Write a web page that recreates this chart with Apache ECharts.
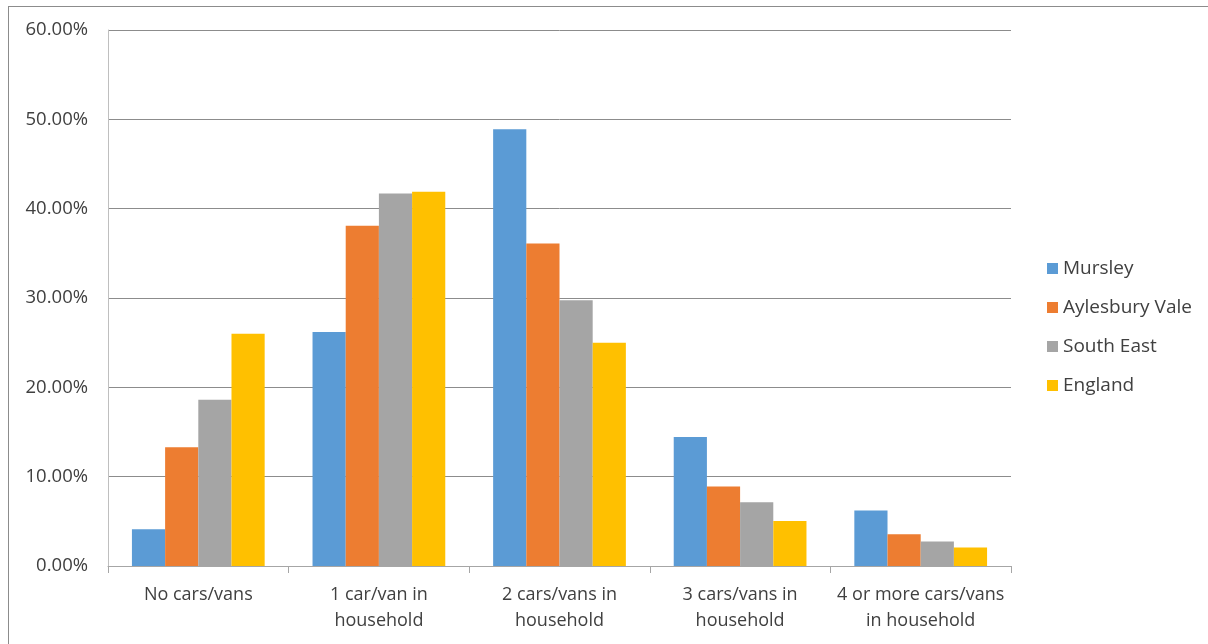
<!DOCTYPE html>
<html>
<head>
<meta charset="utf-8">
<style>
  html, body { margin: 0; padding: 0; background: #ffffff; }
  #chart { width: 1208px; height: 644px; }
</style>
<script src="https://cdn.jsdelivr.net/npm/echarts@6/dist/echarts.min.js"></script>
</head>
<body>
<div id="chart"></div>
<script>
// Household car/van ownership, share of households
const categories = [
  'No cars/vans',
  '1 car/van in\nhousehold',
  '2 cars/vans in\nhousehold',
  '3 cars/vans in\nhousehold',
  '4 or more cars/vans\nin household'
];
const seriesNames = ['Mursley', 'Aylesbury Vale', 'South East', 'England'];
const mursley       = [4.11, 26.2, 48.9, 14.45, 6.2];
const aylesburyVale = [13.3, 38.1, 36.1, 8.9, 3.55];
const southEast     = [18.6, 41.7, 29.75, 7.13, 2.73];
const england       = [26.0, 41.9, 25.0, 5.04, 2.06];
const yTicks = [0, 10, 20, 30, 40, 50, 60];

const seriesValues = [mursley, aylesburyVale, southEast, england];
const colors = ['#5b9bd5', '#ed7d31', '#a5a5a5', '#ffc000'];
const fontFamily = '"Open Sans", "Liberation Sans", sans-serif';

const chart = echarts.init(document.getElementById('chart'), null, { renderer: 'canvas' });

chart.setOption({
  animation: false,
  backgroundColor: '#ffffff',
  color: colors,
  textStyle: { fontFamily: fontFamily },
  grid: { left: 108, right: 197, top: 30, bottom: 78, containLabel: false },
  legend: {
    orient: 'vertical',
    left: 1042,
    top: 254,
    itemWidth: 11,
    itemHeight: 11,
    itemGap: 20,
    icon: 'rect',
    textStyle: { fontSize: 19, lineHeight: 19, color: '#404040', fontFamily: fontFamily },
    data: seriesNames
  },
  xAxis: {
    type: 'category',
    data: categories,
    axisLine: { show: true, lineStyle: { color: '#a6a6a6', width: 1 } },
    axisTick: { show: true, length: 7, alignWithLabel: false, lineStyle: { color: '#a6a6a6' } },
    axisLabel: {
      interval: 0,
      margin: 16,
      fontSize: 18,
      lineHeight: 26,
      color: '#404040',
      fontFamily: fontFamily
    }
  },
  yAxis: {
    type: 'value',
    min: yTicks[0],
    max: yTicks[yTicks.length - 1],
    interval: 10,
    axisLine: { show: true, lineStyle: { color: '#bfbfbf', width: 1 } },
    axisTick: { show: false },
    splitLine: { show: true, lineStyle: { color: '#8c8c8c', width: 1 } },
    axisLabel: {
      margin: 20,
      fontSize: 18.5,
      color: '#404040',
      fontFamily: fontFamily,
      formatter: v => v.toFixed(2) + '%'
    }
  },
  series: seriesNames.map((name, i) => ({
    name: name,
    type: 'bar',
    data: seriesValues[i],
    barGap: '0%',
    barCategoryGap: '26.5%',
    itemStyle: { color: colors[i] }
  })),
  graphic: [
    {
      type: 'line',
      shape: { x1: 8, y1: 6.5, x2: 1208, y2: 6.5 },
      style: { stroke: '#8c8c8c', lineWidth: 1 },
      silent: true
    },
    {
      type: 'line',
      shape: { x1: 8.5, y1: 6, x2: 8.5, y2: 644 },
      style: { stroke: '#8c8c8c', lineWidth: 1 },
      silent: true
    }
  ]
});
</script>
</body>
</html>
